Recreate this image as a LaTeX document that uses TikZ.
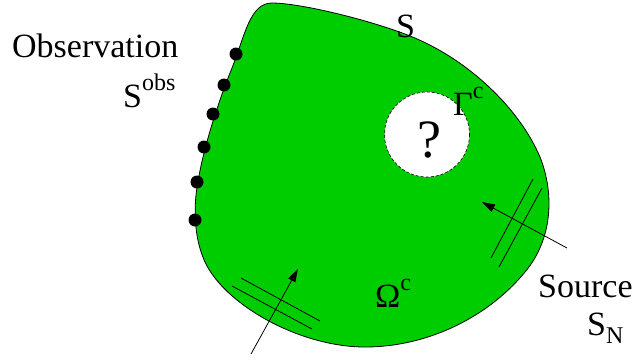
\documentclass[tikz,border=0pt]{standalone}
\usepackage{fontspec}
\setmainfont{Liberation Serif}
\usetikzlibrary{arrows.meta}
\definecolor{regiongreen}{RGB}{0,205,0}
\tikzset{
  lbl/.style={inner sep=0pt, anchor=base west, font=\fontsize{34}{40}\selectfont},
  obsdot/.style={circle, fill=black, inner sep=0pt, minimum size=13pt},
  srcarrow/.style={line width=0.8pt, -{Triangle[length=13pt,width=8pt]}},
  bar/.style={line width=0.8pt},
}
\newcommand{\supc}[1]{\raisebox{17pt}{\fontsize{24}{28}\selectfont #1}}
\begin{document}
\begin{tikzpicture}[x=1pt,y=-1pt]
\useasboundingbox (0,0) rectangle (635,360);
% region
\draw[fill=regiongreen, line width=0.8pt]
  (272,3) .. controls (300,3) and (370,20) .. (410,36)
  .. controls (470,60) and (520,110) .. (540,157)
  .. controls (555,195) and (552,240) .. (525,272)
  .. controls (490,315) and (430,347) .. (365,347)
  .. controls (300,347) and (225,305) .. (205,262)
  .. controls (195,240) and (194,215) .. (196,195)
  .. controls (200,160) and (215,110) .. (232,68)
  .. controls (245,35) and (250,3) .. (272,3) -- cycle;
% hole
\draw[fill=white, line width=0.6pt, dash pattern=on 3pt off 2pt] (427,134.5) circle[radius=42.5];
\node[inner sep=0pt, anchor=base, font=\fontsize{54}{60}\selectfont] (q) at (429,157) {?};
% observation dots
\node[obsdot] (d1) at (236,54) {};
\node[obsdot] (d2) at (224,85) {};
\node[obsdot] (d3) at (213,114) {};
\node[obsdot] (d4) at (204,147) {};
\node[obsdot] (d5) at (197,182) {};
\node[obsdot] (d6) at (195,220) {};
% labels
\node[lbl] (obs) at (12,57) {Observation};
\node[lbl] (sobs) at (123,107) {S\supc{obs}};
\node[lbl] (s) at (396,37) {S};
\node[lbl] (gam) at (453,115) {Γ\supc{c}};
\node[lbl] (om) at (375,307) {Ω\supc{c}};
\node[lbl] (src) at (538,297) {Source};
\node[lbl] (sn) at (587,335) {S\raisebox{-8pt}{\fontsize{24}{28}\selectfont N}};
% source arrows
\coordinate (a1s) at (567,248);
\coordinate (a1e) at (482,202);
\draw[srcarrow] (a1s) -- (a1e);
\coordinate (b1s) at (533,179); \coordinate (b1e) at (491,258);
\coordinate (b2s) at (542,188); \coordinate (b2e) at (499,267);
\draw[bar] (b1s) -- (b1e);
\draw[bar] (b2s) -- (b2e);
\coordinate (a2s) at (251,354);
\coordinate (a2e) at (298,269);
\draw[srcarrow] (a2s) -- (a2e);
\coordinate (c1s) at (241,278); \coordinate (c1e) at (320,321);
\coordinate (c2s) at (232,286); \coordinate (c2e) at (312,329);
\draw[bar] (c1s) -- (c1e);
\draw[bar] (c2s) -- (c2e);
\end{tikzpicture}
\end{document}
